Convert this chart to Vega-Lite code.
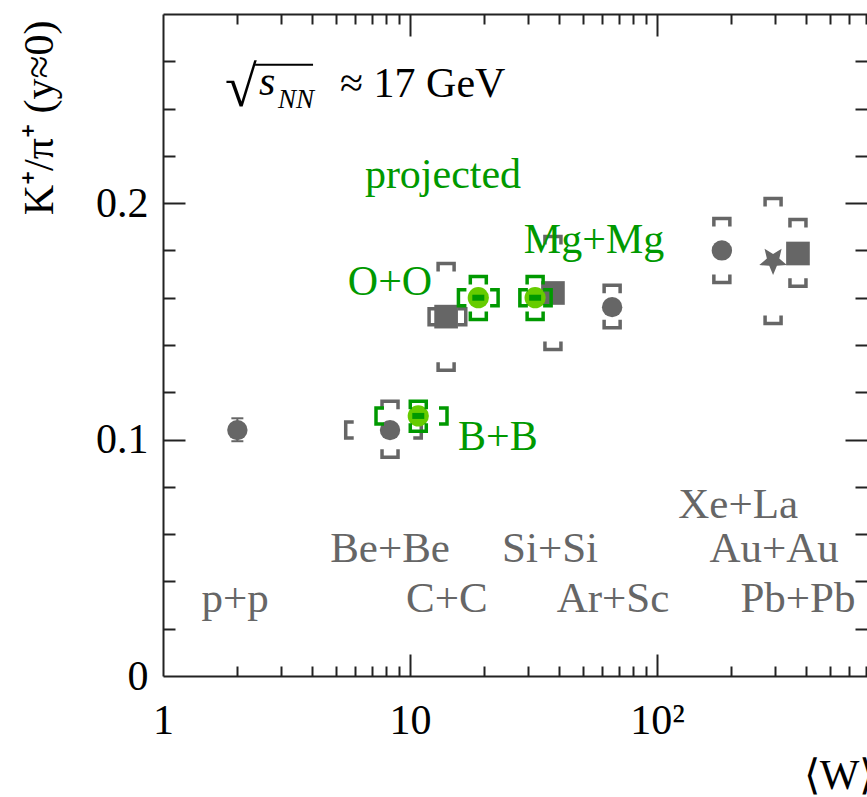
{
  "$schema": "https://vega.github.io/schema/vega-lite/v6.json",
  "width": 704,
  "height": 662,
  "autosize": {"type": "none"},
  "padding": {"left": 163, "top": 14, "right": 0, "bottom": 121},
  "background": "white",
  "config": {
    "view": {"stroke": null},
    "axis": {
      "grid": false,
      "domainColor": "#222222",
      "domainWidth": 2,
      "tickColor": "#222222",
      "tickWidth": 2,
      "labelFont": "Liberation Serif",
      "labelFontSize": 42,
      "labelColor": "#000000",
      "titleFont": "Liberation Serif",
      "titleFontSize": 42,
      "titleFontWeight": "normal",
      "titleColor": "#000000"
    }
  },
  "datasets": {
    "gray": [
      {"sys": "p+p", "W": 2.0, "r": 0.104, "kind": "circle", "slo": 0.0993, "shi": 0.109},
      {"sys": "Be+Be", "W": 8.3, "r": 0.104, "kind": "circle", "rlo": 0.0942, "rhi": 0.1145, "Wlo": 5.7, "Whi": 10.7},
      {"sys": "C+C", "W": 14.0, "r": 0.152, "kind": "square", "rlo": 0.131, "rhi": 0.1728, "Wlo": 12.4, "Whi": 16.2},
      {"sys": "Si+Si", "W": 37.9, "r": 0.162, "kind": "square", "rlo": 0.1398, "rhi": 0.1842},
      {"sys": "Ar+Sc", "W": 65.8, "r": 0.156, "kind": "circle", "rlo": 0.149, "rhi": 0.1636},
      {"sys": "Xe+La", "W": 183, "r": 0.180, "kind": "circle", "rlo": 0.1681, "rhi": 0.1918},
      {"sys": "Au+Au", "W": 295, "r": 0.1757, "kind": "star", "rlo": 0.1508, "rhi": 0.2003},
      {"sys": "Pb+Pb", "W": 372, "r": 0.1787, "kind": "square", "rlo": 0.1665, "rhi": 0.1914}
    ],
    "green": [
      {"sys": "B+B", "W": 10.8, "r": 0.110, "rlo": 0.1052, "rhi": 0.1145, "Wlo": 7.56, "Whi": 13.6},
      {"sys": "O+O", "W": 18.9, "r": 0.160, "rlo": 0.1525, "rhi": 0.1673, "Wlo": 16.3, "Whi": 21.9},
      {"sys": "Mg+Mg", "W": 32.1, "r": 0.160, "rlo": 0.1525, "rhi": 0.1673, "Wlo": 28.9, "Whi": 35.9}
    ],
    "grayLabels": [
      {"t": "p+p", "W": 1.96, "r": 0.0271},
      {"t": "Be+Be", "W": 8.3, "r": 0.0482},
      {"t": "C+C", "W": 14.1, "r": 0.0271},
      {"t": "Si+Si", "W": 36.9, "r": 0.0482},
      {"t": "Ar+Sc", "W": 66.3, "r": 0.0271},
      {"t": "Xe+La", "W": 213, "r": 0.0668},
      {"t": "Au+Au", "W": 298, "r": 0.0482},
      {"t": "Pb+Pb", "W": 372, "r": 0.0271}
    ],
    "greenLabels": [
      {"t": "projected", "W": 13.6, "r": 0.2064},
      {"t": "Mg+Mg", "W": 55.6, "r": 0.179},
      {"t": "O+O", "W": 8.3, "r": 0.161},
      {"t": "B+B", "W": 22.7, "r": 0.0956}
    ]
  },
  "resolve": {"axis": {"x": "independent", "y": "independent"}},
  "layer": [
    {
      "data": {"name": "gray"},
      "transform": [{"filter": "isValid(datum.rhi)"}],
      "mark": {"type": "point", "shape": "M-1,0.5L-1,-0.5L1,-0.5L1,0.5", "filled": false, "stroke": "#666666", "strokeWidth": 3.5, "size": 256, "opacity": 1},
      "encoding": {
        "x": {"field": "W", "type": "quantitative", "scale": {"type": "log", "domain": [1, 708], "nice": false},
          "axis": {"orient": "bottom", "values": [1, 10, 100], "ticks": false, "domain": true, "labels": true, "labelPadding": 24, "labelFlush": false, "labelOverlap": false,
            "labelExpr": "datum.value >= 100 ? '10²' : (datum.value >= 10 ? '10' : '1')",
            "title": "⟨W⟩", "titleAnchor": "end", "titleAlign": "right", "titleBaseline": "alphabetic", "titleX": 712, "titleY": 112}},
        "y": {"field": "rhi", "type": "quantitative", "scale": {"domain": [0, 0.28], "nice": false, "zero": false},
          "axis": {"orient": "left", "values": [0, 0.1, 0.2], "ticks": false, "domain": true, "labels": true, "labelPadding": 15, "labelFlush": false, "labelOverlap": false,
            "labelExpr": "datum.value == 0 ? '0' : format(datum.value, '.1f')",
            "title": "K⁺/π⁺ (y≈0)", "titleAngle": 270, "titleAnchor": "end", "titleAlign": "right", "titleBaseline": "alphabetic", "titleX": -111, "titleY": 6}}
      }
    },
    {
      "data": {"name": "gray"},
      "transform": [{"filter": "isValid(datum.rlo)"}],
      "mark": {"type": "point", "shape": "M-1,-0.5L-1,0.5L1,0.5L1,-0.5", "filled": false, "stroke": "#666666", "strokeWidth": 3.5, "size": 256, "opacity": 1},
      "encoding": {
        "x": {"field": "W", "type": "quantitative", "scale": {"type": "log", "domain": [1, 708], "nice": false},
          "axis": {"orient": "bottom", "values": [10, 100], "ticks": true, "tickSize": -22, "domain": false, "labels": false, "title": null}},
        "y": {"field": "rlo", "type": "quantitative", "scale": {"domain": [0, 0.28], "nice": false, "zero": false},
          "axis": {"orient": "left", "values": [0.1, 0.2], "ticks": true, "tickSize": -22, "domain": false, "labels": false, "title": null}}
      }
    },
    {
      "data": {"name": "gray"},
      "transform": [{"filter": "isValid(datum.Wlo)"}],
      "mark": {"type": "point", "shape": "M0.5,-1L-0.5,-1L-0.5,1L0.5,1", "filled": false, "stroke": "#666666", "strokeWidth": 3.5, "size": 256, "opacity": 1},
      "encoding": {
        "x": {"field": "Wlo", "type": "quantitative", "scale": {"type": "log", "domain": [1, 708], "nice": false},
          "axis": {"orient": "bottom", "values": [2, 3, 4, 5, 6, 7, 8, 9, 20, 30, 40, 50, 60, 70, 80, 90, 200, 300, 400, 500, 600, 700], "ticks": true, "tickSize": -10, "domain": false, "labels": false, "title": null}},
        "y": {"field": "r", "type": "quantitative", "scale": {"domain": [0, 0.28], "nice": false, "zero": false},
          "axis": {"orient": "left", "values": [0.02, 0.04, 0.06, 0.08, 0.12, 0.14, 0.16, 0.18, 0.22, 0.24, 0.26], "ticks": true, "tickSize": -12, "domain": false, "labels": false, "title": null}}
      }
    },
    {
      "data": {"name": "gray"},
      "transform": [{"filter": "isValid(datum.Whi)"}],
      "mark": {"type": "point", "shape": "M-0.5,-1L0.5,-1L0.5,1L-0.5,1", "filled": false, "stroke": "#666666", "strokeWidth": 3.5, "size": 256, "opacity": 1},
      "encoding": {
        "x": {"field": "Whi", "type": "quantitative", "scale": {"type": "log", "domain": [1, 708], "nice": false},
          "axis": {"orient": "top", "values": [10, 100], "ticks": true, "tickSize": -22, "domain": true, "labels": false, "title": null}},
        "y": {"field": "r", "type": "quantitative", "scale": {"domain": [0, 0.28], "nice": false, "zero": false},
          "axis": {"orient": "right", "values": [0.1, 0.2], "ticks": true, "tickSize": -22, "domain": false, "labels": false, "title": null}}
      }
    },
    {
      "data": {"name": "gray"},
      "transform": [{"filter": "isValid(datum.slo)"}],
      "mark": {"type": "rule", "color": "#666666", "strokeWidth": 2},
      "encoding": {
        "x": {"field": "W", "type": "quantitative", "scale": {"type": "log", "domain": [1, 708], "nice": false},
          "axis": {"orient": "top", "values": [2, 3, 4, 5, 6, 7, 8, 9, 20, 30, 40, 50, 60, 70, 80, 90, 200, 300, 400, 500, 600, 700], "ticks": true, "tickSize": -10, "domain": false, "labels": false, "title": null}},
        "y": {"field": "slo", "type": "quantitative", "scale": {"domain": [0, 0.28], "nice": false, "zero": false},
          "axis": {"orient": "right", "values": [0.02, 0.04, 0.06, 0.08, 0.12, 0.14, 0.16, 0.18, 0.22, 0.24, 0.26], "ticks": true, "tickSize": -12, "domain": false, "labels": false, "title": null}},
        "y2": {"field": "shi"}
      }
    },
    {
      "data": {"name": "gray"},
      "transform": [{"filter": "isValid(datum.slo)"}],
      "mark": {"type": "point", "shape": "M-1,0L1,0", "filled": false, "stroke": "#666666", "strokeWidth": 2, "size": 144, "opacity": 1},
      "encoding": {
        "x": {"field": "W", "type": "quantitative", "scale": {"type": "log", "domain": [1, 708], "nice": false}, "axis": null},
        "y": {"field": "slo", "type": "quantitative", "scale": {"domain": [0, 0.28], "nice": false, "zero": false}, "axis": null}
      }
    },
    {
      "data": {"name": "gray"},
      "transform": [{"filter": "isValid(datum.shi)"}],
      "mark": {"type": "point", "shape": "M-1,0L1,0", "filled": false, "stroke": "#666666", "strokeWidth": 2, "size": 144, "opacity": 1},
      "encoding": {
        "x": {"field": "W", "type": "quantitative", "scale": {"type": "log", "domain": [1, 708], "nice": false}, "axis": null},
        "y": {"field": "shi", "type": "quantitative", "scale": {"domain": [0, 0.28], "nice": false, "zero": false}, "axis": null}
      }
    },
    {
      "data": {"name": "gray"},
      "transform": [{"filter": "datum.kind == 'circle'"}],
      "mark": {"type": "point", "shape": "circle", "filled": true, "color": "#666666", "size": 415, "opacity": 1},
      "encoding": {
        "x": {"field": "W", "type": "quantitative", "scale": {"type": "log", "domain": [1, 708], "nice": false}, "axis": null},
        "y": {"field": "r", "type": "quantitative", "scale": {"domain": [0, 0.28], "nice": false, "zero": false}, "axis": null}
      }
    },
    {
      "data": {"name": "gray"},
      "transform": [{"filter": "datum.kind == 'square'"}],
      "mark": {"type": "point", "shape": "square", "filled": true, "color": "#666666", "size": 560, "opacity": 1},
      "encoding": {
        "x": {"field": "W", "type": "quantitative", "scale": {"type": "log", "domain": [1, 708], "nice": false}, "axis": null},
        "y": {"field": "r", "type": "quantitative", "scale": {"domain": [0, 0.28], "nice": false, "zero": false}, "axis": null}
      }
    },
    {
      "data": {"name": "gray"},
      "transform": [{"filter": "datum.kind == 'star'"}],
      "mark": {"type": "point", "shape": "M0,1L0.265,0.364L0.951,0.309L0.428,-0.139L0.588,-0.809L0,-0.45L-0.588,-0.809L-0.428,-0.139L-0.951,0.309L-0.265,0.364Z", "filled": true, "color": "#666666", "size": 840, "opacity": 1},
      "encoding": {
        "x": {"field": "W", "type": "quantitative", "scale": {"type": "log", "domain": [1, 708], "nice": false}, "axis": null},
        "y": {"field": "r", "type": "quantitative", "scale": {"domain": [0, 0.28], "nice": false, "zero": false}, "axis": null}
      }
    },
    {
      "data": {"name": "green"},
      "mark": {"type": "point", "shape": "circle", "filled": true, "color": "#66cc00", "size": 450, "opacity": 1},
      "encoding": {
        "x": {"field": "W", "type": "quantitative", "scale": {"type": "log", "domain": [1, 708], "nice": false}, "axis": null},
        "y": {"field": "r", "type": "quantitative", "scale": {"domain": [0, 0.28], "nice": false, "zero": false}, "axis": null}
      }
    },
    {
      "data": {"name": "green"},
      "mark": {"type": "point", "shape": "M-1,0.5L-1,-0.5L1,-0.5L1,0.5", "filled": false, "stroke": "#009900", "strokeWidth": 3.5, "size": 256, "opacity": 1},
      "encoding": {
        "x": {"field": "W", "type": "quantitative", "scale": {"type": "log", "domain": [1, 708], "nice": false}, "axis": null},
        "y": {"field": "rhi", "type": "quantitative", "scale": {"domain": [0, 0.28], "nice": false, "zero": false}, "axis": null}
      }
    },
    {
      "data": {"name": "green"},
      "mark": {"type": "point", "shape": "M-1,-0.5L-1,0.5L1,0.5L1,-0.5", "filled": false, "stroke": "#009900", "strokeWidth": 3.5, "size": 256, "opacity": 1},
      "encoding": {
        "x": {"field": "W", "type": "quantitative", "scale": {"type": "log", "domain": [1, 708], "nice": false}, "axis": null},
        "y": {"field": "rlo", "type": "quantitative", "scale": {"domain": [0, 0.28], "nice": false, "zero": false}, "axis": null}
      }
    },
    {
      "data": {"name": "green"},
      "mark": {"type": "point", "shape": "M0.5,-1L-0.5,-1L-0.5,1L0.5,1", "filled": false, "stroke": "#009900", "strokeWidth": 3.5, "size": 256, "opacity": 1},
      "encoding": {
        "x": {"field": "Wlo", "type": "quantitative", "scale": {"type": "log", "domain": [1, 708], "nice": false}, "axis": null},
        "y": {"field": "r", "type": "quantitative", "scale": {"domain": [0, 0.28], "nice": false, "zero": false}, "axis": null}
      }
    },
    {
      "data": {"name": "green"},
      "mark": {"type": "point", "shape": "M-0.5,-1L0.5,-1L0.5,1L-0.5,1", "filled": false, "stroke": "#009900", "strokeWidth": 3.5, "size": 256, "opacity": 1},
      "encoding": {
        "x": {"field": "Whi", "type": "quantitative", "scale": {"type": "log", "domain": [1, 708], "nice": false}, "axis": null},
        "y": {"field": "r", "type": "quantitative", "scale": {"domain": [0, 0.28], "nice": false, "zero": false}, "axis": null}
      }
    },
    {
      "data": {"name": "green"},
      "mark": {"type": "point", "shape": "M-1,-0.5L1,-0.5L1,0.5L-1,0.5Z", "filled": true, "color": "#009900", "size": 144, "opacity": 1},
      "encoding": {
        "x": {"field": "W", "type": "quantitative", "scale": {"type": "log", "domain": [1, 708], "nice": false}, "axis": null},
        "y": {"field": "r", "type": "quantitative", "scale": {"domain": [0, 0.28], "nice": false, "zero": false}, "axis": null}
      }
    },
    {
      "data": {"name": "grayLabels"},
      "mark": {"type": "text", "font": "Liberation Serif", "fontSize": 43, "color": "#666666", "align": "center", "baseline": "alphabetic"},
      "encoding": {
        "x": {"field": "W", "type": "quantitative", "scale": {"type": "log", "domain": [1, 708], "nice": false}, "axis": null},
        "y": {"field": "r", "type": "quantitative", "scale": {"domain": [0, 0.28], "nice": false, "zero": false}, "axis": null},
        "text": {"field": "t"}
      }
    },
    {
      "data": {"name": "greenLabels"},
      "mark": {"type": "text", "font": "Liberation Serif", "fontSize": 42, "color": "#009900", "align": "center", "baseline": "alphabetic"},
      "encoding": {
        "x": {"field": "W", "type": "quantitative", "scale": {"type": "log", "domain": [1, 708], "nice": false}, "axis": null},
        "y": {"field": "r", "type": "quantitative", "scale": {"domain": [0, 0.28], "nice": false, "zero": false}, "axis": null},
        "text": {"field": "t"}
      }
    },
    {
      "data": {"values": [{"t": "√", "W": 1.782, "r": 0.2411}]},
      "mark": {"type": "text", "font": "Liberation Serif", "fontSize": 58, "color": "#000000", "align": "left", "baseline": "alphabetic"},
      "encoding": {
        "x": {"field": "W", "type": "quantitative", "scale": {"type": "log", "domain": [1, 708], "nice": false}, "axis": null},
        "y": {"field": "r", "type": "quantitative", "scale": {"domain": [0, 0.28], "nice": false, "zero": false}, "axis": null},
        "text": {"field": "t"}
      }
    },
    {
      "data": {"values": [{"W": 2.36, "W2": 4.05, "r": 0.2585}]},
      "mark": {"type": "rule", "color": "#000000", "strokeWidth": 2},
      "encoding": {
        "x": {"field": "W", "type": "quantitative", "scale": {"type": "log", "domain": [1, 708], "nice": false}, "axis": null},
        "x2": {"field": "W2"},
        "y": {"field": "r", "type": "quantitative", "scale": {"domain": [0, 0.28], "nice": false, "zero": false}, "axis": null}
      }
    },
    {
      "data": {"values": [{"t": "s", "W": 2.448, "r": 0.2458}]},
      "mark": {"type": "text", "font": "Liberation Serif", "fontSize": 42, "fontStyle": "italic", "color": "#000000", "align": "left", "baseline": "alphabetic"},
      "encoding": {
        "x": {"field": "W", "type": "quantitative", "scale": {"type": "log", "domain": [1, 708], "nice": false}, "axis": null},
        "y": {"field": "r", "type": "quantitative", "scale": {"domain": [0, 0.28], "nice": false, "zero": false}, "axis": null},
        "text": {"field": "t"}
      }
    },
    {
      "data": {"values": [{"t": "NN", "W": 2.92, "r": 0.2403}]},
      "mark": {"type": "text", "font": "Liberation Serif", "fontSize": 27, "fontStyle": "italic", "color": "#000000", "align": "left", "baseline": "alphabetic"},
      "encoding": {
        "x": {"field": "W", "type": "quantitative", "scale": {"type": "log", "domain": [1, 708], "nice": false}, "axis": null},
        "y": {"field": "r", "type": "quantitative", "scale": {"domain": [0, 0.28], "nice": false, "zero": false}, "axis": null},
        "text": {"field": "t"}
      }
    },
    {
      "data": {"values": [{"t": "≈ 17 GeV", "W": 5.21, "r": 0.2449}]},
      "mark": {"type": "text", "font": "Liberation Serif", "fontSize": 42, "color": "#000000", "align": "left", "baseline": "alphabetic"},
      "encoding": {
        "x": {"field": "W", "type": "quantitative", "scale": {"type": "log", "domain": [1, 708], "nice": false}, "axis": null},
        "y": {"field": "r", "type": "quantitative", "scale": {"domain": [0, 0.28], "nice": false, "zero": false}, "axis": null},
        "text": {"field": "t"}
      }
    }
  ]
}
